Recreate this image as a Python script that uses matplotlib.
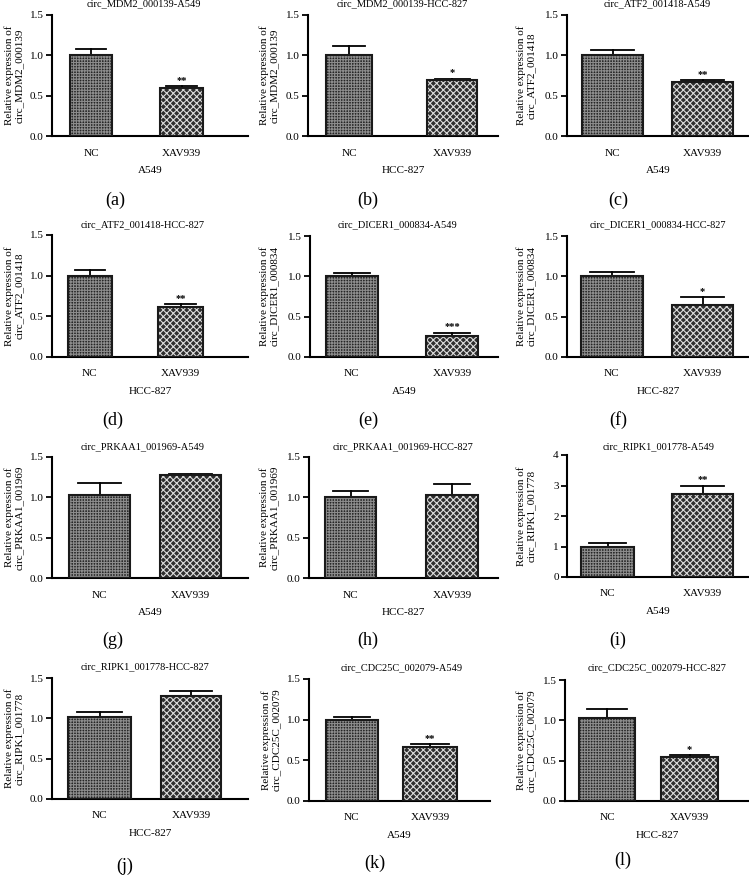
import matplotlib
matplotlib.use("Agg")
import matplotlib.pyplot as plt

plt.rcParams['font.family'] = ['Liberation Serif', 'DejaVu Serif']
plt.rcParams['hatch.linewidth'] = 0.8

W, H = 749, 884

# ---------------- data ----------------
groups = ["NC", "XAV939"]
titles = ["circ_MDM2_000139-A549", "circ_MDM2_000139-HCC-827", "circ_ATF2_001418-A549",
          "circ_ATF2_001418-HCC-827", "circ_DICER1_000834-A549", "circ_DICER1_000834-HCC-827",
          "circ_PRKAA1_001969-A549", "circ_PRKAA1_001969-HCC-827", "circ_RIPK1_001778-A549",
          "circ_RIPK1_001778-HCC-827", "circ_CDC25C_002079-A549", "circ_CDC25C_002079-HCC-827"]
genes = ["circ_MDM2_000139", "circ_MDM2_000139", "circ_ATF2_001418", "circ_ATF2_001418",
         "circ_DICER1_000834", "circ_DICER1_000834", "circ_PRKAA1_001969", "circ_PRKAA1_001969",
         "circ_RIPK1_001778", "circ_RIPK1_001778", "circ_CDC25C_002079", "circ_CDC25C_002079"]
cells = ["A549", "HCC-827", "A549", "HCC-827", "A549", "HCC-827",
         "A549", "HCC-827", "A549", "HCC-827", "A549", "HCC-827"]
nc_mean = [1.00, 1.01, 1.00, 1.00, 1.00, 1.00, 1.03, 1.01, 1.00, 1.02, 1.00, 1.03]
nc_err = [0.08, 0.10, 0.07, 0.07, 0.04, 0.05, 0.15, 0.07, 0.10, 0.06, 0.03, 0.11]
xav_mean = [0.59, 0.69, 0.67, 0.61, 0.26, 0.64, 1.28, 1.03, 2.72, 1.28, 0.67, 0.54]
xav_err = [0.03, 0.02, 0.02, 0.04, 0.04, 0.10, 0.01, 0.13, 0.28, 0.06, 0.03, 0.03]
sig = ["**", "*", "**", "**", "***", "*", "", "", "**", "", "**", "*"]
ymax = [1.5, 1.5, 1.5, 1.5, 1.5, 1.5, 1.5, 1.5, 4, 1.5, 1.5, 1.5]
yticks = [[0, 0.5, 1.0, 1.5]] * 8 + [[0, 1, 2, 3, 4]] + [[0, 0.5, 1.0, 1.5]] * 3
panel_letters = ["(a)", "(b)", "(c)", "(d)", "(e)", "(f)", "(g)", "(h)", "(i)", "(j)", "(k)", "(l)"]

# ---------------- layout (pixels) ----------------
# spine_x, right_x, top_y, zero_y, nc_l, nc_r, xav_l, xav_r
layout = [
    (52, 248, 15, 136, 70, 112, 160, 203),
    (308, 498, 15, 136, 326, 372, 427, 477),
    (567, 749, 15, 136, 582, 643, 672, 733),
    (52, 248, 235, 357, 68, 112, 158, 203),
    (310, 498, 236, 357, 326, 378, 426, 478),
    (567, 749, 236, 357, 581, 643, 672, 733),
    (52, 248, 457, 578, 69, 130, 160, 221),
    (309, 498, 457, 578, 325, 376, 426, 478),
    (567, 749, 455, 577, 581, 634, 672, 733),
    (52, 248, 678, 799, 68, 131, 161, 221),
    (309, 490, 679, 801, 326, 378, 403, 457),
    (565, 749, 680, 801, 579, 635, 661, 718),
]
title_pos = [(144, 4), (402, 4), (657, 4), (143, 225), (397, 225), (658, 225),
             (143, 447), (403, 447), (659, 447), (145, 667), (402, 668), (657, 668)]
ylab_x = [14, 269, 526, 14, 269, 526, 14, 269, 526, 14, 271, 526]
letter_pos = [(115, 200), (368, 200), (618, 200), (113, 420), (368, 420), (618, 420),
              (113, 640), (368, 640), (618, 640), (125, 866), (375, 863), (623, 860)]

fig = plt.figure(figsize=(W / 100, H / 100), dpi=100)

def fx(x):
    return x / W

def fy(y):
    return 1 - y / H

for i in range(12):
    sx, rx, ty, zy, ncl, ncr, xl, xr = layout[i]
    ax = fig.add_axes([fx(sx), fy(zy), (rx - sx) / W, (zy - ty) / H])
    c0 = (ncl + ncr) / 2
    c1 = (xl + xr) / 2
    unit = c1 - c0
    xmin = -(c0 - sx) / unit
    xmax = 1 + (rx - c1) / unit
    w0 = (ncr - ncl) / unit
    w1 = (xr - xl) / unit
    ax.set_xlim(xmin, xmax)
    ax.set_ylim(0, ymax[i])

    means = [nc_mean[i], xav_mean[i]]
    errs = [nc_err[i], xav_err[i]]
    widths = [w0, w1]
    for k in range(2):
        ax.plot([k, k], [means[k], means[k] + errs[k]], color='black', lw=1.3, zorder=1)
        ax.plot([k - widths[k] * 0.35, k + widths[k] * 0.35], [means[k] + errs[k]] * 2,
                color='black', lw=1.3, zorder=1)
    # NC bar: dense dark texture
    ax.bar(0, means[0], width=w0, color='#262626', hatch='++++++', edgecolor='#8c8c8c',
           linewidth=0, zorder=2)
    ax.bar(0, means[0], width=w0, fill=False, edgecolor='#1a1a1a', linewidth=1.5, zorder=3)
    # XAV939 bar: checker texture
    ax.bar(1, means[1], width=w1, color='#2e2e2e', hatch='xxxxx', edgecolor='#dcdcdc',
           linewidth=0, zorder=2)
    ax.bar(1, means[1], width=w1, fill=False, edgecolor='#1a1a1a', linewidth=1.5, zorder=3)

    if sig[i]:
        ax.text(1, means[1] + errs[1] + ymax[i] * 0.012, sig[i], ha='center', va='bottom',
                fontsize=7.5, fontweight='bold')

    ax.set_xticks([0, 1])
    ax.set_xticklabels(groups, fontsize=8)
    ax.tick_params(axis='x', length=0, pad=9)
    ax.set_yticks(yticks[i])
    if ymax[i] == 4:
        ax.set_yticklabels([str(v) for v in yticks[i]], fontsize=8)
    else:
        ax.set_yticklabels(["%.1f" % v for v in yticks[i]], fontsize=8)
    ax.tick_params(axis='y', length=4, width=1.3, direction='out', pad=2)
    for s in ['top', 'right']:
        ax.spines[s].set_visible(False)
    for s in ['left', 'bottom']:
        ax.spines[s].set_linewidth(1.5)
    ax.set_xlabel(cells[i], fontsize=8, labelpad=6)

    tx, tyy = title_pos[i]
    fig.text(fx(tx), fy(tyy), titles[i], ha='center', va='center', fontsize=7.5)
    fig.text(fx(ylab_x[i]), fy((ty + zy) / 2), "Relative expression of\n" + genes[i],
             rotation=90, ha='center', va='center', multialignment='center', fontsize=8,
             linespacing=1.15)
    lx, ly = letter_pos[i]
    fig.text(fx(lx), fy(ly), panel_letters[i], ha='center', va='center', fontsize=13)

fig.savefig("out.png", dpi=100)
